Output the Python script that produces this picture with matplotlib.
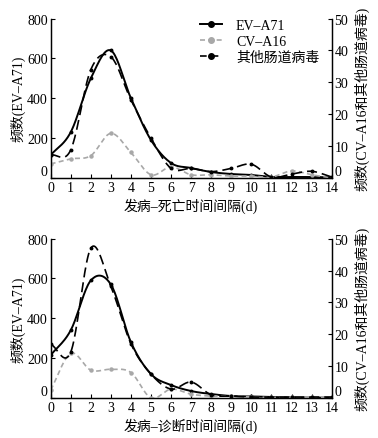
import numpy as np
import matplotlib
matplotlib.use("Agg")
import matplotlib.pyplot as plt
from matplotlib.lines import Line2D

plt.rcParams['font.family'] = ['Liberation Serif', 'Noto Sans CJK SC']

days = np.arange(15)

# top panel: onset -> death
death_ev71 = [115, 230, 500, 640, 400, 190, 75, 50, 30, 20, 15, 5, 5, 5, 3]
death_cva16 = [4.4, 6.0, 7.0, 14.0, 8.0, 1.0, 3.5, 1.0, 1.0, 0.6, 0.6, 0.3, 2.2, 1.0, 0.0]
death_other = [7.2, 8.8, 34.0, 38.0, 24.5, 12.5, 3.0, 3.0, 2.0, 3.0, 4.3, 0.3, 1.2, 2.1, 0.3]

# bottom panel: onset -> diagnosis
diag_ev71 = [215, 340, 590, 570, 280, 120, 65, 35, 20, 10, 8, 5, 3, 2, 2]
diag_cva16 = [2.5, 14.0, 8.75, 9.0, 8.0, 0.0, 2.8, 1.2, 0.6, 0.6, 0.3, 0.2, 0.2, 0.2, 0.2]
diag_other = [16.9, 14.4, 47.0, 35.0, 17.0, 7.5, 2.8, 5.0, 1.0, 0.6, 0.3, 0.3, 0.3, 0.3, 0.3]

xlabels = ["发病–死亡时间间隔(d)", "发病–诊断时间间隔(d)"]


def smooth(x, y, n=20):
    # Catmull-Rom curve through the points
    x = np.asarray(x, float); y = np.asarray(y, float)
    px = np.concatenate([[2 * x[0] - x[1]], x, [2 * x[-1] - x[-2]]])
    py = np.concatenate([[2 * y[0] - y[1]], y, [2 * y[-1] - y[-2]]])
    xs, ys = [], []
    for i in range(1, len(px) - 2):
        t = np.linspace(0, 1, n, endpoint=False)
        for p, out in ((px, xs), (py, ys)):
            p0, p1, p2, p3 = p[i - 1], p[i], p[i + 1], p[i + 2]
            out.append(0.5 * (2 * p1 + (-p0 + p2) * t + (2 * p0 - 5 * p1 + 4 * p2 - p3) * t**2
                              + (-p0 + 3 * p1 - 3 * p2 + p3) * t**3))
    xs.append([x[-1]]); ys.append([y[-1]])
    return np.concatenate(xs), np.clip(np.concatenate(ys), 0, None)


fig = plt.figure(figsize=(3.78, 4.39), dpi=100)
panels = [(0.5923, death_ev71, death_cva16, death_other),
          (0.0911, diag_ev71, diag_cva16, diag_other)]
grey = '#a8a8a8'

for k, (bottom, ev, cv, oth) in enumerate(panels):
    ax = fig.add_axes([0.134, bottom, 0.7435, 0.363])
    ax2 = ax.twinx()
    sx, sy = smooth(days, cv)
    ax2.plot(sx, sy, color=grey, ls=(0, (3, 2)), lw=1.2)
    ax2.plot(days, cv, 'o', color=grey, ms=2.2)
    sx, sy = smooth(days, oth)
    ax2.plot(sx, sy, color='black', ls=(0, (6, 3)), lw=1.2)
    ax2.plot(days, oth, 'o', color='black', ms=1.8)
    sx, sy = smooth(days, ev)
    ax.plot(sx, sy, color='black', lw=1.4)
    ax.plot(days, ev, 'o', color='black', ms=1.8)

    ax.set_xlim(0, 14)
    ax.set_ylim(0, 800)
    ax2.set_ylim(0, 50)
    ax.set_xticks(days)
    ax.set_yticks([0, 200, 400, 600, 800])
    ax2.set_yticks([0, 10, 20, 30, 40, 50])
    for a in (ax, ax2):
        a.tick_params(direction='in', labelsize=10, length=3, width=0.8, pad=2)
        a.spines['top'].set_visible(False)
        for s in a.spines.values():
            s.set_linewidth(0.9)
        # the zero labels sit a little above the axis line
        a.get_yticklabels()[0].set_verticalalignment('bottom')
    ax.set_ylabel("频数(EV–A71)", fontsize=10, labelpad=1)
    ax2.set_ylabel("频数(CV–A16和其他肠道病毒)", fontsize=10, labelpad=4)
    ax.set_xlabel(xlabels[k], fontsize=10, labelpad=3)

    if k == 0:
        handles = [
            Line2D([], [], color='black', lw=1.4, marker='o', ms=4),
            Line2D([], [], color=grey, lw=1.2, ls=(0, (3, 2)), marker='o', ms=4),
            Line2D([], [], color='black', lw=1.2, ls=(0, (4, 3)), marker='o', ms=4),
        ]
        ax.legend(handles, ["EV–A71", "CV–A16", "其他肠道病毒"], loc='upper right',
                  bbox_to_anchor=(1.0, 1.075), frameon=False, fontsize=10,
                  handlelength=1.6, handletextpad=1.0, labelspacing=0.2)

fig.savefig("out.png", dpi=100)
